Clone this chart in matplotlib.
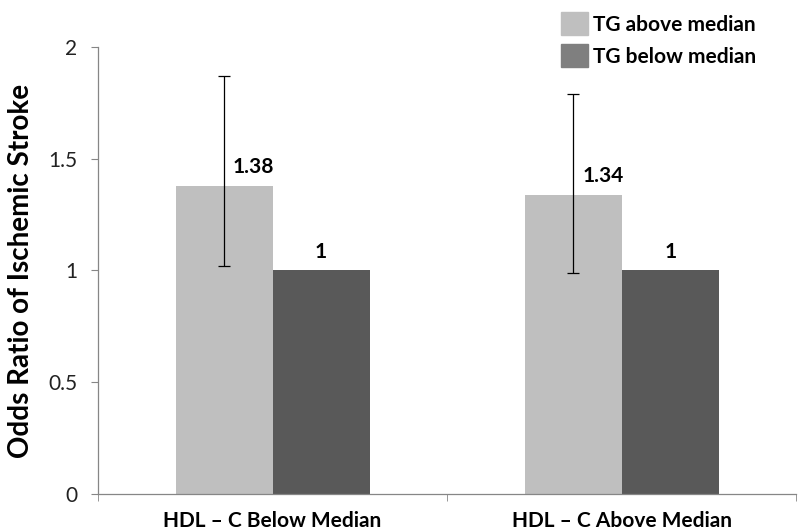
import matplotlib.pyplot as plt
import matplotlib.patches as mpatches
import numpy as np

# data
groups = ['HDL – C Below Median', 'HDL – C Above Median']
series = ['TG above median', 'TG below median']
tg_above = [1.38, 1.34]
tg_below = [1.0, 1.0]
ci_low = [1.02, 0.99]
ci_high = [1.87, 1.79]

plt.rcParams['font.family'] = ['Lato', 'DejaVu Sans']

fig = plt.figure(figsize=(8, 5.31), dpi=100)
ax = fig.add_axes([0.1225, 0.0697, 0.873, 0.8418])

x = np.arange(len(groups))
w = 0.278
light = '#bfbfbf'
dark = '#595959'

ax.bar(x - w / 2, tg_above, w, color=light, zorder=2)
ax.bar(x + w / 2, tg_below, w, color=dark, zorder=2)

yerr = [np.array(tg_above) - np.array(ci_low), np.array(ci_high) - np.array(tg_above)]
ax.errorbar(x - w / 2, tg_above, yerr=yerr, fmt='none', ecolor='black',
            elinewidth=0.9, capsize=4, capthick=0.9, zorder=3)

for i in range(len(groups)):
    ax.text(x[i] - w / 2 + 0.085, tg_above[i] + 0.04, '%.2f' % tg_above[i],
            ha='center', va='bottom', fontsize=15, fontweight='bold')
    ax.text(x[i] + w / 2, tg_below[i] + 0.04, '%g' % tg_below[i],
            ha='center', va='bottom', fontsize=15, fontweight='bold')

ax.set_xlim(-0.5, 1.5)
ax.set_ylim(0, 2)
ax.set_yticks([0, 0.5, 1, 1.5, 2])
ax.set_yticklabels(['0', '0.5', '1', '1.5', '2'])
ax.set_xticks(x)
ax.set_xticklabels(groups, fontsize=15, fontweight='bold')
ax.set_xticks([-0.5, 0.5, 1.5], minor=True)
ax.tick_params(axis='x', which='major', length=0, pad=12)
ax.tick_params(axis='x', which='minor', length=5, color='#868686')
ax.tick_params(axis='y', length=5, color='#868686', labelsize=15, pad=10,
               labelcolor='#222222')

for s in ['top', 'right']:
    ax.spines[s].set_visible(False)
for s in ['left', 'bottom']:
    ax.spines[s].set_color('#868686')
    ax.spines[s].set_linewidth(0.9)

ax.set_ylabel('Odds Ratio of Ischemic Stroke', fontsize=20, fontweight='bold',
              labelpad=10)

handles = [mpatches.Patch(color=light, label=series[0]),
           mpatches.Patch(color='#7f7f7f', label=series[1])]
leg = fig.legend(handles=handles, loc='upper left', bbox_to_anchor=(0.678, 1.012),
                 frameon=False, prop={'size': 15, 'weight': 'bold'},
                 handlelength=1.3, handleheight=1.3, handletextpad=0.25,
                 labelspacing=0.45)

fig.savefig('out.png', dpi=100)
